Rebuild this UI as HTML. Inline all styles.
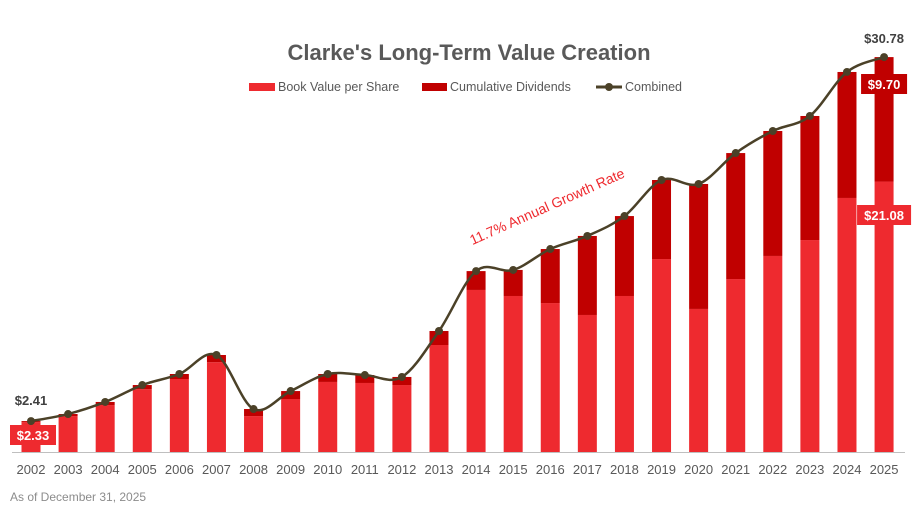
<!DOCTYPE html>
<html><head><meta charset="utf-8"><style>
body{margin:0;background:#fff;width:923px;height:512px;overflow:hidden;font-family:"Liberation Sans",sans-serif;}
svg{display:block}
</style></head><body>
<svg id="chart" width="923" height="512" viewBox="0 0 923 512">
<text x="469" y="60" text-anchor="middle" font-size="22" font-weight="bold" fill="#595959">Clarke's Long-Term Value Creation</text>
<g font-size="12.5" fill="#595959">
 <g><rect x="249" y="83" width="26" height="8" fill="#EE2A2F"/><text x="278" y="91">Book Value per Share</text></g>
 <g><rect x="422" y="83" width="25" height="8" fill="#C00000"/><text x="450" y="91">Cumulative Dividends</text></g>
 <g><line x1="596" y1="87" x2="622" y2="87" stroke="#4B4128" stroke-width="3"/><circle cx="609" cy="87" r="4" fill="#4B4128"/><text x="625" y="91">Combined</text></g>
</g>
<line x1="12" y1="452.5" x2="905" y2="452.5" stroke="#BFBFBF" stroke-width="1"/>
<g id="bars"></g><g id="line"></g><g id="labels"></g>
<text transform="translate(549,211) rotate(-24)" text-anchor="middle" font-size="14" fill="#EE2A2F">11.7% Annual Growth Rate</text>
<text x="10" y="501" font-size="12" fill="#8C8C8C">As of December 31, 2025</text>
</svg>
<script>
const years=[2002,2003,2004,2005,2006,2007,2008,2009,2010,2011,2012,2013,2014,2015,2016,2017,2018,2019,2020,2021,2022,2023,2024,2025];
const bookValue=[2.33,2.8,3.66,4.9,5.69,7.0,2.8,4.13,5.46,5.38,5.22,8.34,12.63,12.16,11.61,10.68,12.16,15.04,11.15,13.48,15.28,16.52,19.8,21.08];
const dividends=[0.08,0.16,0.24,0.32,0.39,0.56,0.55,0.62,0.62,0.62,0.63,1.09,1.47,2.03,4.21,6.16,6.23,6.16,9.74,9.82,9.74,9.67,9.82,9.70];
const NS="http://www.w3.org/2000/svg";
const x0=31,step=37.09,base=452,scale=12.83,bw=19;
const xs=i=>x0+i*step, ys=v=>base-v*scale;
const bars=document.getElementById('bars'),lineG=document.getElementById('line'),labG=document.getElementById('labels');
function mk(t,a,p){const e=document.createElementNS(NS,t);for(const k in a)e.setAttribute(k,a[k]);p.appendChild(e);return e;}
const combined=years.map((y,i)=>bookValue[i]+dividends[i]);
years.forEach((y,i)=>{
 const b=mk('rect',{x:xs(i)-bw/2,y:ys(bookValue[i]),width:bw,height:base-ys(bookValue[i]),fill:'#EE2A2F'},bars);
 
 
 const d=mk('rect',{x:xs(i)-bw/2,y:ys(combined[i]),width:bw,height:ys(bookValue[i])-ys(combined[i]),fill:'#C00000'},bars);
 
 
 const t=mk('text',{x:xs(i),y:474,'text-anchor':'middle','font-size':13,fill:'#595959'},labG);
 t.textContent=y;
 
 
});
const pts=years.map((y,i)=>[xs(i),ys(combined[i])]);
let d='M'+pts[0][0]+','+pts[0][1];
for(let i=0;i<pts.length-1;i++){const p0=pts[i-1]||pts[i],p1=pts[i],p2=pts[i+1],p3=pts[i+2]||p2;
 d+=' C'+(p1[0]+(p2[0]-p0[0])/6)+','+(p1[1]+(p2[1]-p0[1])/6)+' '+(p2[0]-(p3[0]-p1[0])/6)+','+(p2[1]-(p3[1]-p1[1])/6)+' '+p2[0]+','+p2[1];}
const path=mk('path',{d:d,fill:'none',stroke:'#4B4128','stroke-width':2.5},lineG);


pts.forEach((p,i)=>{const c=mk('circle',{cx:p[0],cy:p[1],r:4,fill:'#4B4128'},lineG);
 
 });
function label(txt,cx,cy,bg,name){
 const w=txt.length*8+6;
 if(bg){const r=mk('rect',{x:cx-w/2,y:cy-11,width:w,height:20,fill:bg},labG);}
 const t=mk('text',{x:cx,y:cy+4,'text-anchor':'middle','font-size':13,'font-weight':'bold',fill:bg?'#fff':'#404040'},labG);
 t.textContent=txt;
 
 
}
const n=years.length-1;
label('$'+combined[0].toFixed(2),xs(0),ys(combined[0])-20,null,'label-combined-first');
label('$'+bookValue[0].toFixed(2),xs(0)+2,436,'#EE2A2F','label-book-first');
label('$'+combined[n].toFixed(2),xs(n),ys(combined[n])-18,null,'label-combined-last');
label('$'+dividends[n].toFixed(2),xs(n),85,'#C00000','label-dividends-last');
label('$'+bookValue[n].toFixed(2),xs(n),216,'#EE2A2F','label-book-last');
</script>
</body></html>
